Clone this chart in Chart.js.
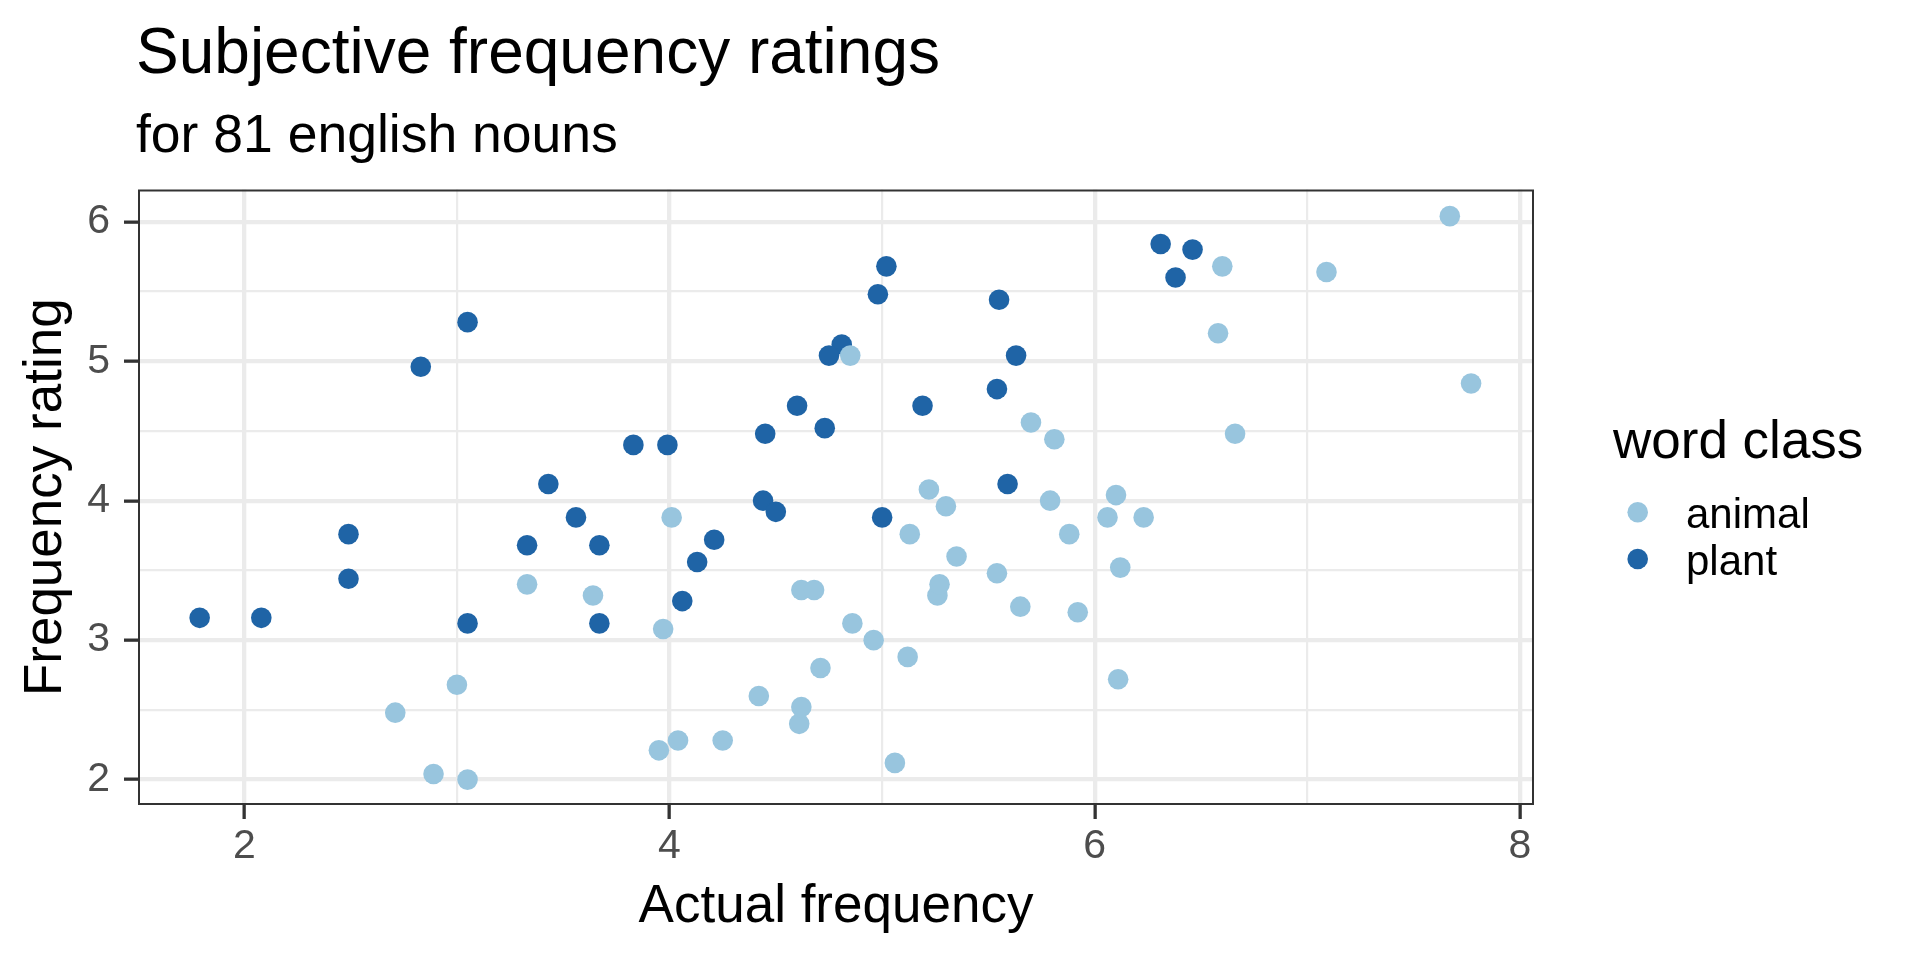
<!DOCTYPE html>
<html>
<head>
<meta charset="utf-8">
<script src="https://cdn.jsdelivr.net/npm/chart.js@4.4.1/dist/chart.umd.min.js"></script>
<style>
  html, body { margin: 0; padding: 0; background: #ffffff; }
  canvas { display: block; }
</style>
</head>
<body>
<canvas id="chart" width="1920" height="960"></canvas>
<script>
// ---------------- data ----------------
const seriesNames = ['animal', 'plant'];

const animalX = [2.71, 2.89, 3.00, 3.05, 3.33, 3.64, 3.95, 3.97, 4.01, 4.04,
                 4.25, 4.42, 4.61, 4.62, 4.62, 4.68, 4.71, 4.85, 4.86, 4.96,
                 5.06, 5.12, 5.13, 5.22, 5.26, 5.27, 5.30, 5.35, 5.54, 5.65,
                 5.70, 5.79, 5.81, 5.88, 5.92, 6.06, 6.10, 6.11, 6.12, 6.23,
                 6.58, 6.60, 6.66, 7.09, 7.67, 7.77];
const animalY = [2.48, 2.04, 2.68, 2.00, 3.40, 3.32, 2.21, 3.08, 3.88, 2.28,
                 2.28, 2.60, 2.40, 2.52, 3.36, 3.36, 2.80, 5.04, 3.12, 3.00,
                 2.12, 2.88, 3.76, 4.08, 3.32, 3.40, 3.96, 3.60, 3.48, 3.24,
                 4.56, 4.00, 4.44, 3.76, 3.20, 3.88, 4.04, 2.72, 3.52, 3.88,
                 5.20, 5.68, 4.48, 5.64, 6.04, 4.84];

const plantX = [1.79, 2.08, 2.49, 2.49, 2.83, 3.05, 3.05, 3.33, 3.43, 3.56,
                3.67, 3.67, 3.83, 3.99, 4.06, 4.13, 4.21, 4.44, 4.45, 4.50,
                4.60, 4.73, 4.81, 4.75, 4.98, 5.00, 5.02, 5.19, 5.54, 5.55,
                5.59, 5.63, 6.31, 6.38, 6.46];
const plantY = [3.16, 3.16, 3.76, 3.44, 4.96, 5.28, 3.12, 3.68, 4.12, 3.88,
                3.68, 3.12, 4.40, 4.40, 3.28, 3.56, 3.72, 4.00, 4.48, 3.92,
                4.68, 4.52, 5.12, 5.04, 5.48, 3.88, 5.68, 4.68, 4.80, 5.44,
                4.12, 5.04, 5.84, 5.60, 5.80];

// tick values (major ones are labelled, minor ones only get a grid line)
const xMajorTicks = [2, 4, 6, 8];
const xMinorTicks = [3, 5, 7];
const yMajorTicks = [2, 3, 4, 5, 6];
const yMinorTicks = [2.5, 3.5, 4.5, 5.5];

const titleText = 'Subjective frequency ratings';
const subtitleText = 'for 81 english nouns';
const xTitleText = 'Actual frequency';
const yTitleText = 'Frequency rating';
const legendTitleText = 'word class';

// ---------------- styling ----------------
const FONT = "'Liberation Sans', Arial, Helvetica, sans-serif";
const COLOR_ANIMAL = '#98C5DE';
const COLOR_PLANT = '#1F64A6';
const GRID = '#EBEBEB';
const INK = '#333333';

const toPoints = (xs, ys) => xs.map((x, i) => ({ x: x, y: ys[i] }));
const sortNum = a => a.slice().sort((p, q) => p - q);

const decorPlugin = {
  id: 'decor',
  afterDatasetsDraw(chart) {
    const { ctx, chartArea } = chart;
    ctx.save();
    ctx.strokeStyle = INK;
    ctx.lineWidth = 2;
    ctx.strokeRect(chartArea.left + 1, chartArea.top + 1,
                   chartArea.right - chartArea.left - 2, chartArea.bottom - chartArea.top - 2);
    ctx.restore();
  },
  afterDraw(chart) {
    const { ctx } = chart;
    ctx.save();
    ctx.fillStyle = '#000000';
    ctx.textAlign = 'left';
    ctx.textBaseline = 'alphabetic';
    ctx.font = '64px ' + FONT;
    ctx.fillText(titleText, 136, 73);
    ctx.font = '53.5px ' + FONT;
    ctx.fillText(subtitleText, 136, 152);

    // legend
    ctx.font = '53px ' + FONT;
    ctx.fillText(legendTitleText, 1613, 458);
    const colors = [COLOR_ANIMAL, COLOR_PLANT];
    const keyY = [512.3, 559];
    ctx.font = '42px ' + FONT;
    seriesNames.forEach((name, i) => {
      ctx.beginPath();
      ctx.fillStyle = colors[i];
      ctx.arc(1637.7, keyY[i], 10.3, 0, Math.PI * 2);
      ctx.fill();
      ctx.fillStyle = '#000000';
      ctx.fillText(name, 1686, keyY[i] + 16);
    });
    ctx.restore();
  }
};

const isMajor = (list, v) => list.some(t => Math.abs(t - v) < 1e-9);

new Chart(document.getElementById('chart'), {
  type: 'scatter',
  data: {
    datasets: [
      {
        label: seriesNames[0],
        data: toPoints(animalX, animalY),
        backgroundColor: COLOR_ANIMAL,
        borderWidth: 0,
        pointRadius: 10.3,
        pointHoverRadius: 10.3
      },
      {
        label: seriesNames[1],
        data: toPoints(plantX, plantY),
        backgroundColor: COLOR_PLANT,
        borderWidth: 0,
        pointRadius: 10.3,
        pointHoverRadius: 10.3
      }
    ]
  },
  options: {
    responsive: false,
    animation: false,
    devicePixelRatio: 1,
    events: [],
    layout: { padding: { left: 0, right: 386, top: 189.5, bottom: 0 } },
    plugins: {
      legend: { display: false },
      title: { display: false },
      tooltip: { enabled: false }
    },
    scales: {
      x: {
        type: 'linear',
        position: 'bottom',
        min: 1.5,
        max: 8.066,
        afterBuildTicks: (scale) => {
          scale.ticks = sortNum(xMajorTicks.concat(xMinorTicks)).map(v => ({ value: v }));
        },
        afterFit: (scale) => { scale.height = 155; },
        border: { display: false },
        grid: {
          color: GRID,
          lineWidth: (c) => isMajor(xMajorTicks, c.tick ? c.tick.value : NaN) ? 4.3 : 2.2,
          drawTicks: true,
          tickLength: 14,
          tickWidth: 3.3,
          tickColor: (c) => isMajor(xMajorTicks, c.tick ? c.tick.value : NaN) ? INK : 'rgba(0,0,0,0)'
        },
        ticks: {
          autoSkip: false,
          maxRotation: 0,
          padding: 3,
          color: '#4D4D4D',
          font: { family: FONT, size: 41 },
          callback: (v) => isMajor(xMajorTicks, v) ? String(v) : ''
        },
        title: {
          display: true,
          text: xTitleText,
          color: '#000000',
          font: { family: FONT, size: 53 },
          padding: { top: 0, bottom: 21 }
        }
      },
      y: {
        type: 'linear',
        position: 'left',
        min: 1.818,
        max: 6.231,
        afterBuildTicks: (scale) => {
          scale.ticks = sortNum(yMajorTicks.concat(yMinorTicks)).map(v => ({ value: v }));
        },
        afterFit: (scale) => { scale.width = 138; },
        border: { display: false },
        grid: {
          color: GRID,
          lineWidth: (c) => isMajor(yMajorTicks, c.tick ? c.tick.value : NaN) ? 4.3 : 2.2,
          drawTicks: true,
          tickLength: 14,
          tickWidth: 3.3,
          tickColor: (c) => isMajor(yMajorTicks, c.tick ? c.tick.value : NaN) ? INK : 'rgba(0,0,0,0)'
        },
        ticks: {
          autoSkip: false,
          padding: 14,
          color: '#4D4D4D',
          font: { family: FONT, size: 41 },
          callback: (v) => isMajor(yMajorTicks, v) ? String(v) : ''
        },
        title: {
          display: true,
          text: yTitleText,
          color: '#000000',
          font: { family: FONT, size: 53 },
          padding: { top: 15, bottom: 0 }
        }
      }
    }
  },
  plugins: [decorPlugin]
});
</script>
</body>
</html>
